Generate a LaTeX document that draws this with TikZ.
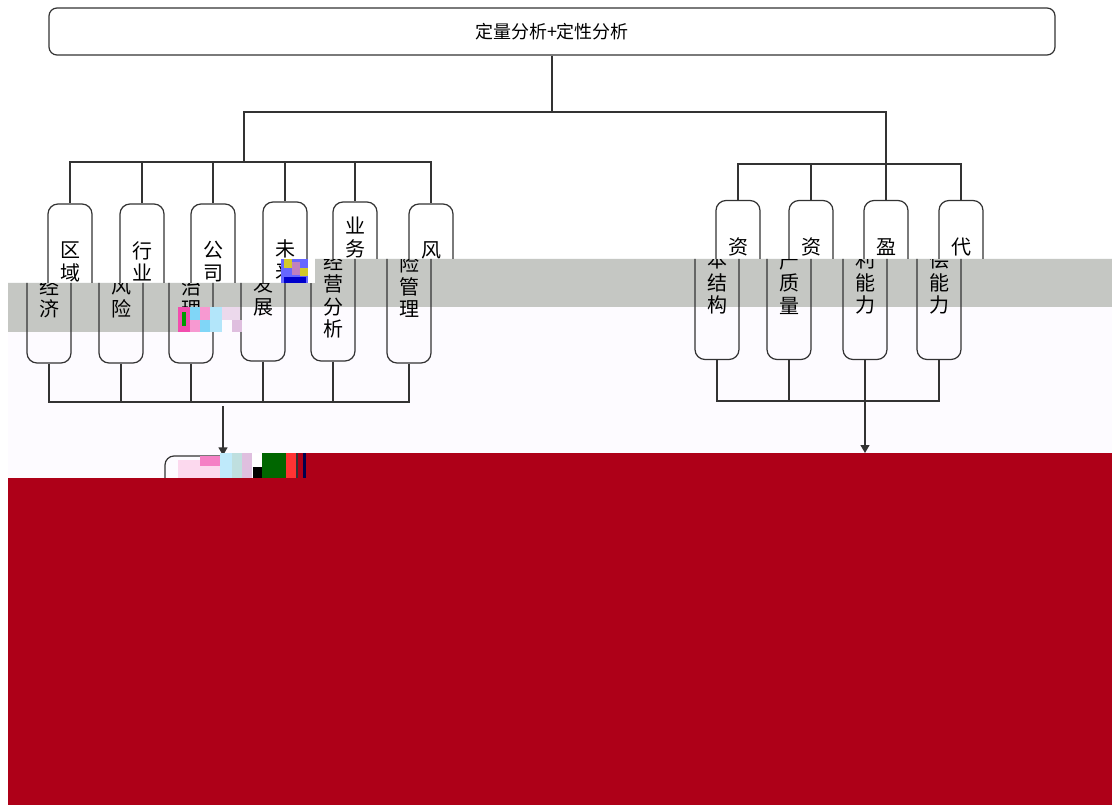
\documentclass[tikz,border=0pt]{standalone}
\usepackage{fontspec}
\setmainfont{Noto Sans CJK SC}
\usetikzlibrary{arrows.meta}
\definecolor{linegray}{HTML}{333333}
\definecolor{bandgray}{HTML}{C5C7C3}
\definecolor{paleback}{HTML}{FDFBFF}
\definecolor{deepred}{HTML}{AE0018}
\tikzset{
  boxline/.style={draw=linegray,line width=1.2pt},
  colbox/.style={boxline,rounded corners=10pt,minimum width=44pt,minimum height=159pt,
                 inner sep=0pt,align=center,font=\fontsize{20}{22.5}\selectfont},
  wire/.style={draw=linegray,line width=1.2pt},
  tipwire/.style={wire,-{Triangle[length=8pt,width=9pt]}}
}
\begin{document}
\begin{tikzpicture}[x=1pt,y=-1pt]
\useasboundingbox (0,0) rectangle (1112,805);

% damaged bands of the picture
\fill[white] (0,0) rectangle (1112,805);
\fill[paleback] (8,283) -- (315,283) -- (315,259) -- (1112,259) -- (1112,805) -- (8,805) -- cycle;
\fill[bandgray] (8,283) -- (315,283) -- (315,259) -- (1112,259) -- (1112,307) -- (178,307) -- (178,332) -- (8,332) -- cycle;

\node[boxline,rounded corners=8pt,minimum width=1006pt,minimum height=47pt,inner sep=0pt,
      font=\fontsize{18}{20}\selectfont] (total) at (552,31.5) {定量分析+定性分析};

% upper half of the columns
\begin{scope}
\clip (0,0) -- (1112,0) -- (1112,259) -- (315,259) -- (315,283) -- (0,283) -- cycle;
\begin{scope}[every node/.style={colbox}]
    \node (regionU) at (70,283.5) {区\\域\\~\\~};
    \node (tradeU) at (142,283.5) {行\\业\\~\\~};
    \node (governU) at (213,283.5) {公\\司\\~\\~};
    \node (futureU) at (285,281.5) {未\\来\\~\\~};
    \node (businessU) at (355,281.5) {业\\务\\~\\~\\~\\~};
    \node (riskU) at (431,283.5) {风\\~\\~\\~};
    \node (capitalU) at (738,280) {资\\~\\~\\~};
    \node (assetU) at (811,280) {资\\~\\~\\~};
    \node (profitU) at (886,280) {盈\\~\\~\\~};
    \node (repayU) at (961,280) {代\\~\\~\\~};
\end{scope}
\end{scope}

% lower half of the columns, moved to the left
\begin{scope}
\clip (0,283) -- (315,283) -- (315,259) -- (1112,259) -- (1112,805) -- (0,805) -- cycle;
\begin{scope}[every node/.style={colbox}]
    \node (regionL) at (49,283.5) {~\\~\\经\\济};
    \node (tradeL) at (121,283.5) {~\\~\\风\\险};
    \node (governL) at (191,283.5) {~\\~\\治\\理};
    \node (futureL) at (263,281.5) {~\\~\\发\\展};
    \node (businessL) at (333,281.5) {~\\~\\经\\营\\分\\析};
    \node (riskL) at (409,283.5) {~\\险\\管\\理};
    \node (capitalL) at (717,280) {~\\本\\结\\构};
    \node (assetL) at (789,280) {~\\产\\质\\量};
    \node (profitL) at (865,280) {~\\利\\能\\力};
    \node (repayL) at (939,280) {~\\偿\\能\\力};
\end{scope}
\end{scope}

\coordinate (split) at (552,112);
\coordinate (busA) at (244,162);
\coordinate (busB) at (886,164);
\coordinate (busC) at (223,402);
\coordinate (busD) at (866,401);
\coordinate (startC) at (223,406);
\coordinate (endD) at (865,453);

\node[boxline,rounded corners=9pt,minimum width=116pt,minimum height=40pt] (resultL) at (223,476) {};

\draw[wire] (total) -- (split);
\draw[wire] (busA) |- (split) -| (busB);

\draw[wire] (busA) -| (regionU);
\draw[wire] (busA) -| (tradeU);
\draw[wire] (busA) -| (governU);
\draw[wire] (busA) -| (futureU);
\draw[wire] (busA) -| (businessU);
\draw[wire] (busA) -| (riskU);

\draw[wire] (busB) -| (capitalU);
\draw[wire] (busB) -| (assetU);
\draw[wire] (busB) -- (profitU);
\draw[wire] (busB) -| (repayU);

\draw[wire] (regionL) |- (busC);
\draw[wire] (tradeL) |- (busC);
\draw[wire] (governL) |- (busC);
\draw[wire] (futureL) |- (busC);
\draw[wire] (businessL) |- (busC);
\draw[wire] (riskL) |- (busC);
\draw[tipwire] (startC) -- (resultL);

\draw[wire] (capitalL) |- (busD);
\draw[wire] (assetL) |- (busD);
\draw[wire] (repayL) |- (busD);
\draw[tipwire] (profitL) -- (endD);

% red block
\fill[deepred] (297,453) -- (1112,453) -- (1112,805) -- (8,805) -- (8,478) -- (297,478) -- cycle;

% colour noise
\fill[blue!60!white] (281,259) rectangle (315,283);
\fill[yellow!80!black] (284,259) rectangle (292,268);
\fill[violet!50!white] (292,262) rectangle (300,275);
\fill[yellow!80!black] (300,268) rectangle (308,276);
\fill[white] (308,259) rectangle (315,283);
\fill[blue!80!black] (284,277) rectangle (306,283);

\fill[magenta!70!white] (178,307) rectangle (190,332);
\fill[green!60!black] (182,312) rectangle (186,326);
\fill[cyan!50!white] (190,307) rectangle (200,320);
\fill[magenta!40!white] (200,307) rectangle (210,320);
\fill[cyan!50!white] (200,320) rectangle (210,332);
\fill[magenta!40!white] (190,320) rectangle (200,332);
\fill[cyan!30!white] (210,307) rectangle (222,332);
\fill[violet!15!white] (222,307) rectangle (240,320);
\fill[violet!25!white] (232,320) rectangle (242,332);

\fill[magenta!15!white] (178,460) rectangle (222,478);
\fill[magenta!50!white] (200,456) rectangle (220,466);
\fill[cyan!25!white] (220,453) rectangle (232,478);
\fill[teal!25!white] (232,453) rectangle (242,478);
\fill[violet!25!white] (242,453) rectangle (252,478);
\fill[white] (252,453) rectangle (262,467);
\fill[black] (253,467) rectangle (262,478);
\fill[green!40!black] (262,453) rectangle (286,478);
\fill[red!80!white] (286,453) rectangle (296,478);
\fill[linegray] (296,453) rectangle (298,478);
\fill[deepred] (298,453) rectangle (303,478);
\fill[blue!30!black] (303,453) rectangle (306,478);
\end{tikzpicture}
\end{document}
